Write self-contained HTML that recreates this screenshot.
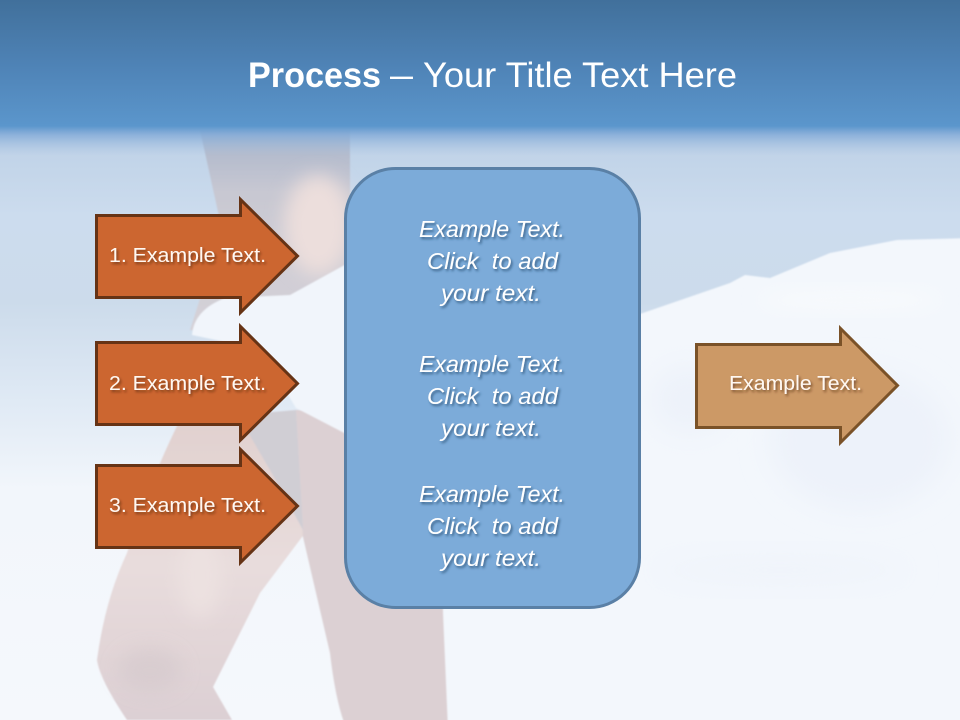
<!DOCTYPE html>
<html><head><meta charset="utf-8"><style>
html,body{margin:0;padding:0;width:960px;height:720px;overflow:hidden;background:#f3f7fc}
svg{display:block}
text{font-family:"Liberation Sans",sans-serif;fill:#fff}
.s{font-size:20px;fill:#fff8f2;filter:url(#ts)}
.m{font-size:23px;font-style:italic;filter:url(#ts2)}
</style></head><body>
<svg width="960" height="720" viewBox="0 0 960 720" xmlns="http://www.w3.org/2000/svg">
<defs>
<linearGradient id="bg" x1="0" y1="0" x2="0" y2="1">
<stop offset="0" stop-color="#a8c2e0"/><stop offset=".23" stop-color="#c3d5e9"/><stop offset=".3" stop-color="#ccdcee"/><stop offset=".42" stop-color="#ccdbeb"/><stop offset=".56" stop-color="#e0eaf5"/><stop offset=".68" stop-color="#f2f6fb"/><stop offset="1" stop-color="#f5f8fc"/>
</linearGradient>
<linearGradient id="top" x1="0" y1="0" x2="0" y2="1">
<stop offset="0" stop-color="#41709b"/><stop offset=".5" stop-color="#4e82b5"/><stop offset="1" stop-color="#5b96cc"/>
</linearGradient>
<linearGradient id="fade" x1="0" y1="0" x2="0" y2="1">
<stop offset="0" stop-color="#5b96cc"/><stop offset=".3" stop-color="#85acd8" stop-opacity=".85"/><stop offset="1" stop-color="#a8c2e0" stop-opacity="0"/>
</linearGradient>
<linearGradient id="torso" x1="0" y1="0" x2="0" y2="1">
<stop offset="0" stop-color="#a8b4ca"/><stop offset=".3" stop-color="#c8c8d2"/><stop offset="1" stop-color="#d6d2d8"/>
</linearGradient>
<linearGradient id="legL" x1="0" y1="0" x2="0" y2="1">
<stop offset="0" stop-color="#e0d0ce"/><stop offset=".5" stop-color="#e8dcdc"/><stop offset="1" stop-color="#dccfd3"/>
</linearGradient>
<filter id="b0" x="-10%" y="-10%" width="120%" height="120%"><feGaussianBlur stdDeviation=".8"/></filter>
<filter id="b2" x="-40%" y="-40%" width="180%" height="180%"><feGaussianBlur stdDeviation="9"/></filter>
<filter id="b3" x="-30%" y="-30%" width="160%" height="160%"><feGaussianBlur stdDeviation="14"/></filter>
<filter id="ts" x="-10%" y="-40%" width="125%" height="200%"><feDropShadow dx="1.5" dy="2" stdDeviation="1.3" flood-color="#402010" flood-opacity=".6"/></filter>
<filter id="ts2" x="-10%" y="-40%" width="125%" height="200%"><feDropShadow dx="1.5" dy="2" stdDeviation="1.3" flood-color="#23466b" flood-opacity=".75"/></filter>
</defs>
<rect width="960" height="720" fill="url(#bg)"/>
<!-- right cloth, extended under the panel so no edge shows -->
<path d="M350 420 L640 314 L730 283 L745 275 L770 278 L830 253 L897 240 L970 238 L970 730 L350 730Z" fill="#f3f7fc" filter="url(#b0)"/>
<ellipse cx="860" cy="440" rx="90" ry="70" fill="#edf2fa" filter="url(#b3)"/>
<ellipse cx="690" cy="400" rx="40" ry="34" fill="#edf2fa" filter="url(#b3)"/>
<ellipse cx="850" cy="300" rx="90" ry="10" fill="#f8fafd" filter="url(#b2)"/>
<ellipse cx="780" cy="570" rx="130" ry="18" fill="#f0f4fb" filter="url(#b3)"/>
<!-- torso -->
<path d="M200 130 L350 130 L350 320 L300 340 L190 330 L222 230 Z" fill="url(#torso)" filter="url(#b0)"/>
<ellipse cx="318" cy="225" rx="34" ry="50" fill="#ecdedc" filter="url(#b2)"/>
<!-- legs -->
<g filter="url(#b0)">
<path d="M180 420 L345 410 L345 500 L302 537 L260 593 L213 687 L232 720 L127 720 Q100 680 97 660 Q105 600 127 553 Q150 480 180 420Z" fill="url(#legL)"/>
<path d="M295 410 L441 410 L443 613 L448 730 L347 730 Q336 705 330 653 L303 537 Z" fill="#dcd0d3"/>
<path d="M238 415 L296 410 L303 530 L270 470 Z" fill="#d0ced4"/>
</g>
<ellipse cx="200" cy="575" rx="22" ry="42" fill="#ece1e0" filter="url(#b2)"/>
<ellipse cx="150" cy="670" rx="32" ry="22" fill="#d6cace" filter="url(#b2)" opacity=".7"/>
<!-- left cloth -->
<path d="M192 335 Q194 310 225 298 L290 295 L350 262 L350 436 L296 408 L270 365 L240 345 Z" fill="#f1f5fb" filter="url(#b0)"/>
<!-- header -->
<rect width="960" height="126" fill="url(#top)"/>
<rect y="126" width="960" height="30" fill="url(#fade)"/>
<text y="87" font-size="35" x="248" font-weight="bold" textLength="133" lengthAdjust="spacingAndGlyphs">Process</text>
<text y="87" font-size="35" x="390" textLength="23" lengthAdjust="spacingAndGlyphs">–</text>
<text y="87" font-size="35" x="423" textLength="314" lengthAdjust="spacingAndGlyphs">Your Title Text Here</text>
<!-- center panel -->
<rect x="345.500" y="168.500" width="294" height="439" rx="50" ry="50" fill="#7cabd9" stroke="#5a80a6" stroke-width="3"/>
<text class="m" x="419" y="237" textLength="146" lengthAdjust="spacingAndGlyphs">Example Text.</text>
<text class="m" x="427" y="269" textLength="131" lengthAdjust="spacingAndGlyphs" xml:space="preserve">Click  to add</text>
<text class="m" x="441" y="301" textLength="100" lengthAdjust="spacingAndGlyphs">your text.</text>
<text class="m" x="419" y="372" textLength="146" lengthAdjust="spacingAndGlyphs">Example Text.</text>
<text class="m" x="427" y="404" textLength="131" lengthAdjust="spacingAndGlyphs" xml:space="preserve">Click  to add</text>
<text class="m" x="441" y="436" textLength="100" lengthAdjust="spacingAndGlyphs">your text.</text>
<text class="m" x="419" y="502" textLength="146" lengthAdjust="spacingAndGlyphs">Example Text.</text>
<text class="m" x="427" y="534" textLength="131" lengthAdjust="spacingAndGlyphs" xml:space="preserve">Click  to add</text>
<text class="m" x="441" y="566" textLength="100" lengthAdjust="spacingAndGlyphs">your text.</text>
<!-- arrows -->
<path d="M96.500 215.500H240.500V199.500L297.500 256L240.500 312.500V297.500H96.500Z" fill="#cc6630" stroke="#663315" stroke-width="3"/>
<path d="M96.500 342.500H240.500V326.500L297.500 383.500L240.500 440V424.500H96.500Z" fill="#cc6630" stroke="#663315" stroke-width="3"/>
<path d="M96.500 465.500H240.500V449.500L297.500 506L240.500 562.500V547.500H96.500Z" fill="#cc6630" stroke="#663315" stroke-width="3"/>
<path d="M696.500 344.500H840.500V328.500L897.500 385.500L840.500 442.500V427.500H696.500Z" fill="#cc9966" stroke="#7a5228" stroke-width="3"/>
<text class="s" x="109" y="262" textLength="157" lengthAdjust="spacingAndGlyphs">1. Example Text.</text>
<text class="s" x="109" y="390" textLength="157" lengthAdjust="spacingAndGlyphs">2. Example Text.</text>
<text class="s" x="109" y="512" textLength="157" lengthAdjust="spacingAndGlyphs">3. Example Text.</text>
<text class="s" x="729" y="390" textLength="133" lengthAdjust="spacingAndGlyphs">Example Text.</text>
</svg>
</body></html>
